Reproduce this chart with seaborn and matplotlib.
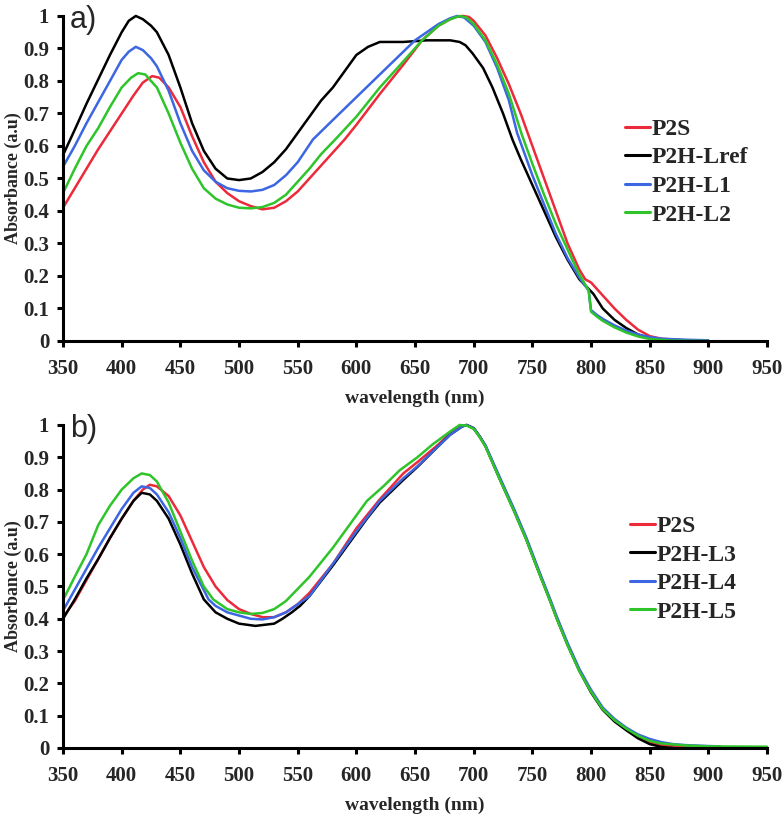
import matplotlib
matplotlib.use("Agg")
import matplotlib.pyplot as plt
import pandas as pd
import seaborn as sns

# ---- panel a) ----
P2S_A_WL = [350, 360, 370, 380, 390, 400, 410, 418, 426, 432, 440, 450, 460, 470, 480, 490, 500, 510,
            520, 530, 540, 550, 560, 570, 580, 590, 600, 620, 640, 656, 670, 680, 686, 691, 696, 700,
            710, 720, 730, 740, 748, 760, 770, 780, 790, 795, 800, 805, 810, 820, 830, 840, 850, 860,
            880, 900]
P2S_A_ABS = [0.41, 0.47, 0.53, 0.59, 0.645, 0.70, 0.755, 0.795, 0.815, 0.81, 0.78, 0.72, 0.63, 0.55,
             0.49, 0.455, 0.43, 0.415, 0.405, 0.41, 0.43, 0.46, 0.50, 0.54, 0.58, 0.62, 0.665, 0.76,
             0.85, 0.925, 0.97, 0.99, 0.998, 1.0, 0.997, 0.985, 0.94, 0.87, 0.79, 0.70, 0.62, 0.50,
             0.40, 0.30, 0.22, 0.19, 0.18, 0.16, 0.14, 0.10, 0.065, 0.035, 0.015, 0.007, 0.002, 0.0]

LREF_A_WL = [350, 360, 370, 380, 390, 400, 406, 412, 418, 425, 430, 440, 450, 460, 470, 480, 490, 500,
             510, 520, 530, 540, 552, 560, 570, 580, 590, 600, 610, 620, 640, 660, 680, 688, 693, 699,
             708, 716, 725, 733, 740, 750, 760, 770, 780, 790, 802, 810, 820, 830, 840, 850, 860, 880]
LREF_A_ABS = [0.572, 0.65, 0.73, 0.805, 0.88, 0.95, 0.985, 1.0, 0.99, 0.97, 0.95, 0.88, 0.78, 0.67,
              0.585, 0.53, 0.50, 0.495, 0.50, 0.52, 0.55, 0.59, 0.65, 0.69, 0.74, 0.78, 0.83, 0.88,
              0.905, 0.92, 0.92, 0.925, 0.925, 0.92, 0.91, 0.885, 0.84, 0.78, 0.70, 0.62, 0.56, 0.48,
              0.40, 0.32, 0.25, 0.19, 0.145, 0.10, 0.065, 0.04, 0.02, 0.008, 0.003, 0.0]

L1_A_WL = [350, 360, 370, 380, 390, 400, 406, 412, 418, 425, 430, 440, 450, 460, 470, 480, 490, 500,
           510, 520, 530, 540, 550, 563, 580, 600, 620, 640, 650, 660, 670, 680, 686, 692, 700, 710,
           720, 730, 737, 750, 760, 770, 780, 790, 798, 800, 805, 810, 820, 830, 840, 850, 860, 880, 900]
L1_A_ABS = [0.536, 0.60, 0.67, 0.735, 0.80, 0.865, 0.89, 0.905, 0.895, 0.87, 0.845, 0.77, 0.67, 0.585,
            0.525, 0.49, 0.47, 0.462, 0.46, 0.465, 0.48, 0.51, 0.55, 0.62, 0.68, 0.75, 0.82, 0.89,
            0.925, 0.95, 0.975, 0.993, 1.0, 0.995, 0.97, 0.92, 0.84, 0.74, 0.64, 0.51, 0.42, 0.33,
            0.255, 0.195, 0.155, 0.095, 0.08, 0.068, 0.048, 0.032, 0.02, 0.012, 0.007, 0.004, 0.002]

L2_A_WL = [350, 360, 370, 380, 390, 400, 408, 414, 420, 430, 440, 450, 460, 470, 480, 490, 500, 510,
           520, 530, 540, 550, 560, 570, 582, 600, 620, 640, 656, 670, 680, 688, 694, 700, 710, 720,
           730, 741, 750, 760, 770, 784, 790, 798, 800, 805, 810, 820, 830, 840, 850, 870, 900]
L2_A_ABS = [0.455, 0.53, 0.60, 0.655, 0.72, 0.78, 0.81, 0.824, 0.82, 0.78, 0.70, 0.61, 0.53, 0.47,
            0.438, 0.42, 0.41, 0.408, 0.412, 0.425, 0.45, 0.49, 0.53, 0.575, 0.62, 0.69, 0.78, 0.86,
            0.925, 0.97, 0.99, 1.0, 0.995, 0.975, 0.925, 0.85, 0.76, 0.635, 0.545, 0.45, 0.36, 0.25,
            0.205, 0.155, 0.09, 0.075, 0.062, 0.042, 0.026, 0.014, 0.006, 0.001, 0.0]

# ---- panel b) ----
P2S_B_WL = [350, 360, 370, 380, 390, 400, 410, 418, 424, 430, 440, 450, 460, 470, 480, 490, 500, 510,
            520, 530, 540, 550, 560, 580, 600, 620, 640, 652, 670, 680, 690, 694, 700, 705, 710, 722,
            735, 745, 755, 765, 771, 780, 790, 800, 810, 820, 830, 840, 850, 860, 880, 900]
P2S_B_ABS = [0.405, 0.455, 0.52, 0.585, 0.65, 0.71, 0.765, 0.80, 0.815, 0.81, 0.78, 0.72, 0.64, 0.56,
             0.50, 0.458, 0.43, 0.415, 0.405, 0.405, 0.42, 0.445, 0.48, 0.57, 0.68, 0.77, 0.85, 0.885,
             0.94, 0.975, 0.997, 1.0, 0.99, 0.965, 0.935, 0.835, 0.73, 0.645, 0.55, 0.458, 0.40, 0.32,
             0.24, 0.175, 0.12, 0.085, 0.058, 0.033, 0.017, 0.009, 0.004, 0.002]

L3_B_WL = [350, 360, 370, 380, 390, 400, 410, 417, 424, 430, 440, 450, 460, 470, 480, 490, 500, 514,
           530, 537, 545, 552, 560, 580, 600, 609, 620, 640, 652, 670, 680, 690, 694, 700, 705, 710,
           722, 735, 745, 755, 765, 771, 780, 790, 800, 810, 820, 830, 840, 850, 860, 870]
L3_B_ABS = [0.40, 0.46, 0.525, 0.585, 0.65, 0.71, 0.765, 0.79, 0.785, 0.765, 0.71, 0.63, 0.54, 0.46,
            0.42, 0.40, 0.385, 0.378, 0.385, 0.40, 0.42, 0.44, 0.47, 0.565, 0.665, 0.71, 0.76, 0.83,
            0.87, 0.935, 0.97, 0.995, 1.0, 0.99, 0.965, 0.935, 0.835, 0.73, 0.645, 0.55, 0.458, 0.40,
            0.32, 0.24, 0.172, 0.118, 0.082, 0.055, 0.03, 0.012, 0.003, 0.0]

L4_B_WL = [350, 360, 370, 380, 390, 400, 410, 417, 424, 430, 440, 450, 460, 474, 480, 490, 500, 510,
           520, 530, 540, 550, 560, 580, 600, 620, 640, 652, 670, 680, 690, 694, 700, 705, 710, 722,
           735, 745, 755, 765, 771, 780, 790, 800, 810, 820, 830, 840, 850, 860, 870, 880, 900, 910]
L4_B_ABS = [0.425, 0.49, 0.555, 0.62, 0.68, 0.74, 0.79, 0.81, 0.805, 0.785, 0.73, 0.65, 0.56, 0.46,
            0.44, 0.42, 0.41, 0.40, 0.398, 0.405, 0.42, 0.445, 0.47, 0.57, 0.67, 0.765, 0.835, 0.872,
            0.935, 0.97, 0.995, 1.0, 0.99, 0.965, 0.937, 0.84, 0.735, 0.65, 0.555, 0.462, 0.405, 0.325,
            0.245, 0.18, 0.125, 0.09, 0.063, 0.042, 0.028, 0.018, 0.012, 0.009, 0.006, 0.005]

L5_B_WL = [350, 360, 370, 380, 390, 400, 410, 417, 424, 430, 440, 450, 460, 470, 478, 490, 500, 510,
           520, 530, 540, 552, 560, 580, 609, 623, 637, 652, 665, 680, 688, 694, 700, 705, 710, 722,
           735, 745, 755, 765, 771, 780, 790, 800, 810, 820, 830, 840, 850, 860, 880, 900, 950]
L5_B_ABS = [0.458, 0.53, 0.60, 0.69, 0.75, 0.80, 0.835, 0.85, 0.845, 0.825, 0.76, 0.67, 0.58, 0.50,
            0.46, 0.43, 0.42, 0.415, 0.418, 0.43, 0.455, 0.50, 0.53, 0.62, 0.765, 0.81, 0.86, 0.90,
            0.94, 0.98, 1.0, 0.998, 0.988, 0.963, 0.933, 0.833, 0.728, 0.643, 0.548, 0.456, 0.398,
            0.318, 0.238, 0.174, 0.12, 0.086, 0.06, 0.038, 0.022, 0.014, 0.008, 0.005, 0.004]

PANEL_A = [("P2S", P2S_A_WL, P2S_A_ABS), ("P2H-Lref", LREF_A_WL, LREF_A_ABS),
           ("P2H-L1", L1_A_WL, L1_A_ABS), ("P2H-L2", L2_A_WL, L2_A_ABS)]
PANEL_B = [("P2S", P2S_B_WL, P2S_B_ABS), ("P2H-L3", L3_B_WL, L3_B_ABS),
           ("P2H-L4", L4_B_WL, L4_B_ABS), ("P2H-L5", L5_B_WL, L5_B_ABS)]

COLORS = ["#ec2a3a", "#000000", "#3c66e2", "#2ec42a"]
X_TICKS = list(range(350, 951, 50))
Y_TICKS = [0, 0.1, 0.2, 0.3, 0.4, 0.5, 0.6, 0.7, 0.8, 0.9, 1]
Y_TICK_LABELS = ["0", "0.1", "0.2", "0.3", "0.4", "0.5", "0.6", "0.7", "0.8", "0.9", "1"]

SERIF = "Liberation Serif"


def to_frame(series):
    parts = [pd.DataFrame({"wavelength": wl, "absorbance": ab, "sample": name}) for name, wl, ab in series]
    return pd.concat(parts, ignore_index=True)


def draw_panel(ax, series, tag, legend_xy):
    df = to_frame(series)
    names = [s[0] for s in series]
    sns.lineplot(data=df, x="wavelength", y="absorbance", hue="sample", hue_order=names,
                 palette=COLORS, estimator=None, sort=False, linewidth=1.8, clip_on=False, ax=ax)
    ax.set_xlim(350, 950)
    ax.set_ylim(0, 1)
    ax.set_xticks(X_TICKS)
    ax.set_xticklabels([str(t) for t in X_TICKS], fontfamily=SERIF, fontweight="bold", fontsize=15)
    ax.set_yticks(Y_TICKS)
    ax.set_yticklabels(Y_TICK_LABELS, fontfamily=SERIF, fontweight="bold", fontsize=15)
    ax.tick_params(axis="both", direction="out", length=4, width=2.2, color="black")
    ax.tick_params(axis="x", pad=9)
    ax.tick_params(axis="y", pad=6)
    for side in ("top", "right"):
        ax.spines[side].set_visible(False)
    for side in ("left", "bottom"):
        ax.spines[side].set_linewidth(2.2)
        ax.spines[side].set_color("black")
    ax.set_xlabel("wavelength (nm)", fontfamily=SERIF, fontweight="bold", fontsize=14, labelpad=8)
    ax.set_ylabel("Absorbance (a.u)", fontfamily=SERIF, fontweight="bold", fontsize=13)
    # ylabel anchor is the right edge of the rotated text
    ax.yaxis.set_label_coords(-0.058, 0.5)

    handles, labels = ax.get_legend_handles_labels()
    ax.legend(handles, labels, loc="center left", bbox_to_anchor=legend_xy, frameon=False,
              borderaxespad=0, borderpad=0, handlelength=1.05, handletextpad=0.1, labelspacing=0.3,
              prop={"family": SERIF, "weight": "bold", "size": 17})
    for line in ax.get_legend().get_lines():
        line.set_linewidth(2.2)

    ax.text(0.01, 1.035, tag, transform=ax.transAxes, ha="left", va="top",
            fontfamily="Liberation Sans", fontsize=22)


def main():
    sns.set_style("ticks")
    fig = plt.figure(figsize=(7.83, 8.14), dpi=100)
    ax_a = fig.add_axes([0.0805, 0.5811, 0.8991, 0.3993])
    ax_b = fig.add_axes([0.0805, 0.0811, 0.8991, 0.3968])

    draw_panel(ax_a, PANEL_A, "a)", (0.798, 0.52))
    draw_panel(ax_b, PANEL_B, "b)", (0.805, 0.554))

    fig.savefig("out.png", dpi=100)


if __name__ == "__main__":
    main()
